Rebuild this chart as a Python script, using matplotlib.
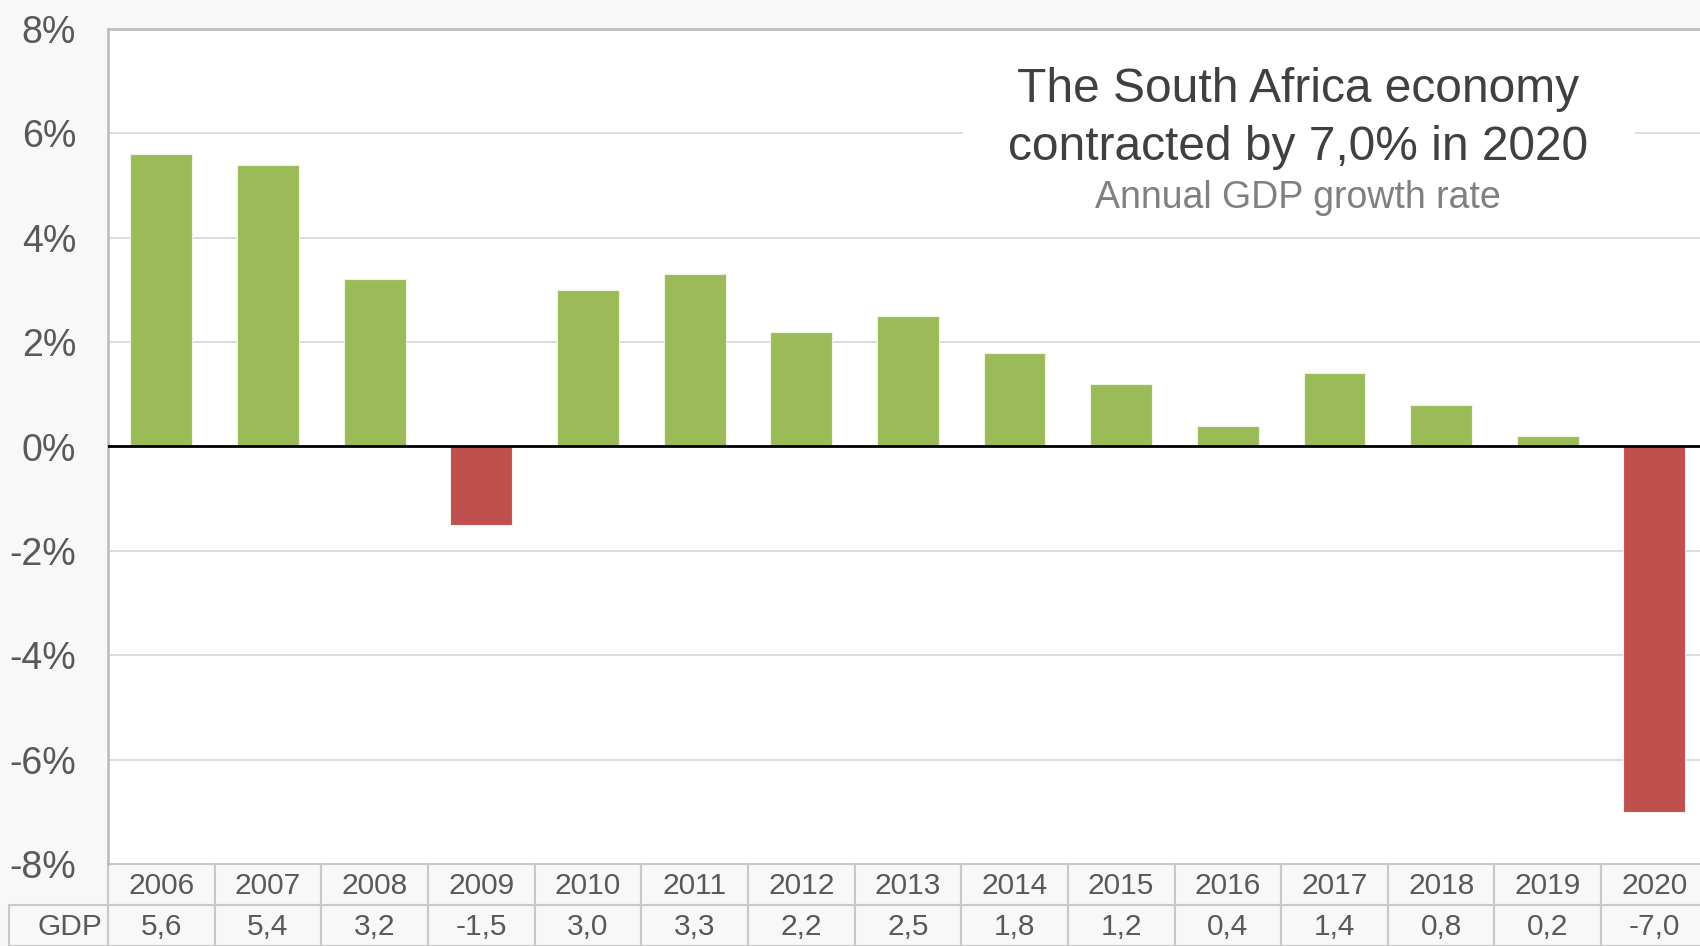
import matplotlib
matplotlib.use("Agg")
import matplotlib.pyplot as plt
from matplotlib.patches import Rectangle
from matplotlib.transforms import blended_transform_factory

plt.rcParams['font.family'] = ['Liberation Sans', 'DejaVu Sans']

# data
years = ['2006', '2007', '2008', '2009', '2010', '2011', '2012', '2013',
         '2014', '2015', '2016', '2017', '2018', '2019', '2020']
gdp = [5.6, 5.4, 3.2, -1.5, 3.0, 3.3, 2.2, 2.5, 1.8, 1.2, 0.4, 1.4, 0.8, 0.2, -7.0]
gdp_labels = ['5,6', '5,4', '3,2', '-1,5', '3,0', '3,3', '2,2', '2,5',
              '1,8', '1,2', '0,4', '1,4', '0,8', '0,2', '-7,0']
yticks = [-8, -6, -4, -2, 0, 2, 4, 6, 8]

GREEN = '#9BBB59'
RED = '#C0504D'
BG = '#F8F8F8'
BORDER = '#C8C8C8'
TXT = '#595959'

W, H = 1700, 946
fig = plt.figure(figsize=(W / 100, H / 100), dpi=100, facecolor=BG)

# plot area in pixels: left 108, top 29, bottom 864; runs a little past the right edge
left, top, bottom = 108, 29, 864
colw = 106.65
ax = fig.add_axes([left / W, (H - bottom) / H, colw * len(years) / W, (bottom - top) / H])
ax.set_facecolor('white')

x = list(range(len(years)))
colors = [GREEN if v >= 0 else RED for v in gdp]
ax.bar(x, gdp, width=0.58, color=colors, edgecolor='#EEF3E4', linewidth=0.8, zorder=2)

ax.set_xlim(-0.5, len(years) - 0.5)
ax.set_ylim(-8, 8)
ax.set_yticks(yticks)
ax.set_yticklabels([f'{t}%' for t in yticks], fontsize=27, color=TXT)
ax.tick_params(axis='y', length=0, pad=23)
ax.set_xticks([])
ax.set_axisbelow(True)
ax.yaxis.grid(True, color='#D9D9D9', linewidth=1.3)
ax.axhline(0, color='black', linewidth=2, zorder=3)

for side in ['top', 'left']:
    ax.spines[side].set_color('#BFBFBF')
    ax.spines[side].set_linewidth(2)
ax.spines['right'].set_visible(False)
ax.spines['bottom'].set_visible(False)

# white box behind title
ax.add_patch(Rectangle((963 / W, 1 - 218 / H), (1635 - 963) / W, 168 / H,
                       transform=fig.transFigure, facecolor='white',
                       edgecolor='none', zorder=0.8))

cx = 1298 / W
fig.text(cx, 1 - 90 / H, 'The South Africa economy', ha='center', va='center',
         fontsize=34.5, color='#404040')
fig.text(cx, 1 - 147 / H, 'contracted by 7,0% in 2020', ha='center', va='center',
         fontsize=34.5, color='#404040')
fig.text(cx, 1 - 198 / H, 'Annual GDP growth rate', ha='center', va='center',
         fontsize=27, color='#808080')

# data table under the chart
tr = blended_transform_factory(ax.transData, fig.transFigure)
row1_top, row1_bot, row2_bot = 1 - 864 / H, 1 - 905 / H, 1 - 946 / H
label_left = -0.5 - (left - 9) / colw

for i, (yr, lab) in enumerate(zip(years, gdp_labels)):
    ax.add_patch(Rectangle((i - 0.5, row1_bot), 1, row1_top - row1_bot, transform=tr,
                           facecolor=BG, edgecolor=BORDER, linewidth=1.5, clip_on=False))
    ax.add_patch(Rectangle((i - 0.5, row2_bot), 1, row1_bot - row2_bot, transform=tr,
                           facecolor=BG, edgecolor=BORDER, linewidth=1.5, clip_on=False))
    ax.text(i, (row1_top + row1_bot) / 2 - 0.002, yr, transform=tr, ha='center',
            va='center', fontsize=21.5, color=TXT)
    ax.text(i, (row1_bot + row2_bot) / 2 - 0.002, lab, transform=tr, ha='center',
            va='center', fontsize=21.5, color=TXT)

ax.add_patch(Rectangle((label_left, row2_bot), -0.5 - label_left, row1_bot - row2_bot,
                       transform=tr, facecolor=BG, edgecolor=BORDER, linewidth=1.5,
                       clip_on=False))
ax.text(-0.55, (row1_bot + row2_bot) / 2 - 0.002, 'GDP', transform=tr, ha='right',
        va='center', fontsize=21.5, color=TXT)

fig.savefig('out.png', dpi=100, facecolor=BG)
